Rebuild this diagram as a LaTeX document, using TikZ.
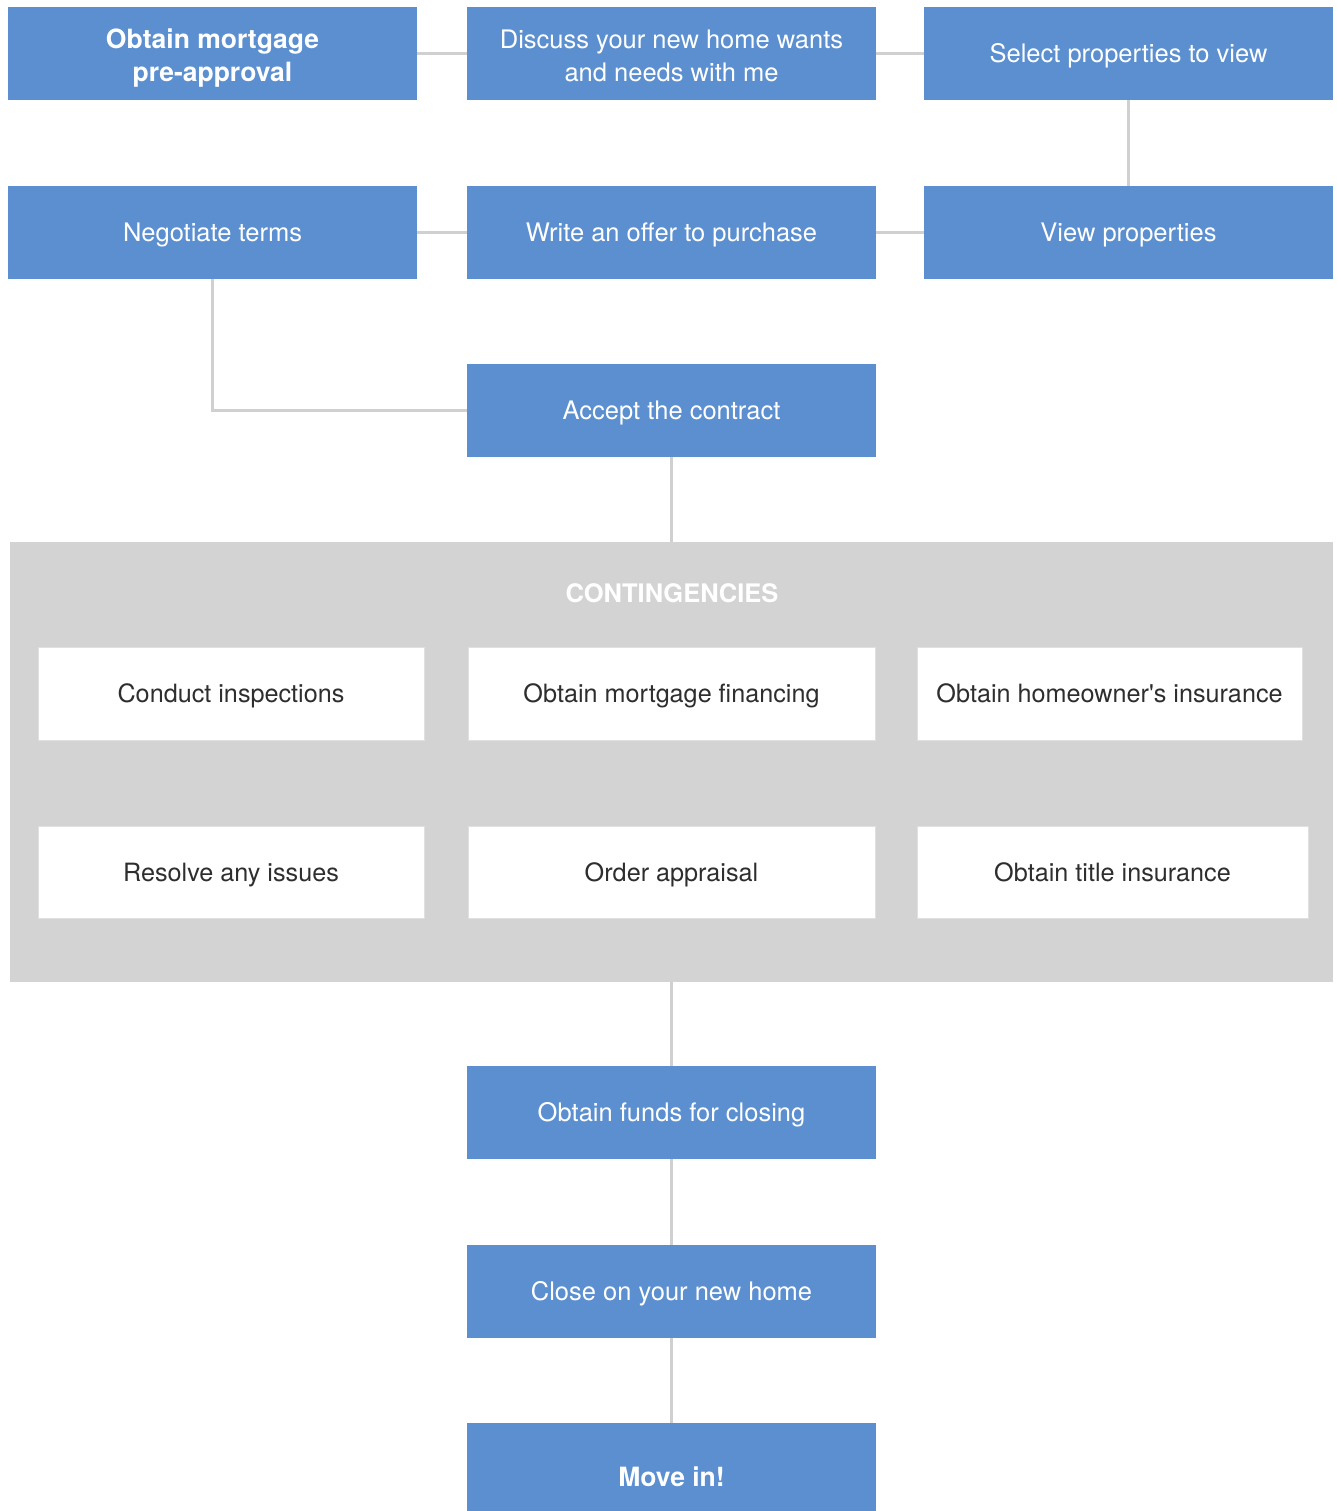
\documentclass[tikz,border=0pt]{standalone}
\usepackage{fontspec}
\setmainfont{TeX Gyre Heros}
\newfontfamily\heros{TeX Gyre Heros}
\definecolor{boxblue}{HTML}{5B8FD0}
\definecolor{panelgray}{HTML}{D3D3D3}
\definecolor{linegray}{HTML}{D0D0D0}
\definecolor{textdark}{HTML}{2E2E2E}
\begin{document}
\begin{tikzpicture}[x=1pt,y=-1pt,
  bluebox/.style={fill=boxblue, text=white, minimum width=409pt, minimum height=93pt, inner sep=0pt, align=center, font=\heros\fontsize{25.5}{33}\selectfont, text height=18.5pt, text depth=0pt},
  twoline/.style={text height=57pt, text depth=0pt},
  boldblue/.style={bluebox, font=\heros\bfseries\fontsize{26.5}{33}\selectfont},
  whitebox/.style={fill=white, draw=black!12, line width=0.8pt, text=textdark, minimum height=93pt, inner sep=0pt, align=center, font=\heros\fontsize{25.2}{33}\selectfont, text height=18.3pt, text depth=0pt},
  conn/.style={draw=linegray, line width=3pt}]
\clip (0,0) rectangle (1336,1511);
\fill[white] (0,0) rectangle (1336,1511);
% panel
\node[fill=panelgray, minimum width=1323pt, minimum height=440pt, inner sep=0pt] (panel) at (671.5,762) {};
\node[text=white, font=\heros\bfseries\fontsize{25.5}{30}\selectfont, inner sep=0pt, text height=18.5pt, text depth=0pt] (cont) at (672,593) {CONTINGENCIES};
% row 1
\node[boldblue, twoline] (preapp) at (212.5,53.5) {Obtain mortgage\\pre-approval};
\node[bluebox, twoline] (discuss) at (671.5,53.5) {Discuss your new home wants\\and needs with me};
\node[bluebox] (select) at (1128.5,53.5) {Select properties to view};
% row 2
\node[bluebox] (negot) at (212.5,232.5) {Negotiate terms};
\node[bluebox] (offer) at (671.5,232.5) {Write an offer to purchase};
\node[bluebox] (view) at (1128.5,232.5) {View properties};
% accept
\node[bluebox] (accept) at (671.5,410.5) {Accept the contract};
% contingencies
\node[whitebox, minimum width=386pt] (insp) at (231,693.5) {Conduct inspections};
\node[whitebox, minimum width=407pt] (fin) at (671.5,693.5) {Obtain mortgage financing};
\node[whitebox, minimum width=385pt] (hoins) at (1109.5,693.5) {Obtain homeowner's insurance};
\node[whitebox, minimum width=386pt, minimum height=92pt] (resolve) at (231,872) {Resolve any issues};
\node[whitebox, minimum width=407pt, minimum height=92pt] (appr) at (671.5,872) {Order appraisal};
\node[whitebox, minimum width=391pt, minimum height=92pt] (title) at (1112.5,872) {Obtain title insurance};
% bottom chain
\node[bluebox] (funds) at (671.5,1112.5) {Obtain funds for closing};
\node[bluebox] (close) at (671.5,1291.5) {Close on your new home};
\node[boldblue, minimum height=108pt] (movein) at (671.5,1477) {Move in!};
% connectors
\draw[conn] (preapp.east) -- (discuss.west);
\draw[conn] (discuss.east) -- (select.west);
\draw[conn] (select.south) -- (view.north);
\draw[conn] (view.west) -- (offer.east);
\draw[conn] (offer.west) -- (negot.east);
\draw[conn] (negot.south) |- (accept.west);
\draw[conn] (accept.south) -- (panel.north);
\draw[conn] (panel.south) -- (funds.north);
\draw[conn] (funds.south) -- (close.north);
\draw[conn] (close.south) -- (movein.north);
\end{tikzpicture}
\end{document}
